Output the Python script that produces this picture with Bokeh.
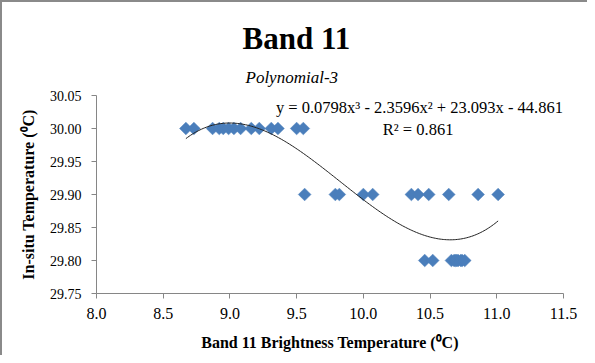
import numpy as np
from bokeh.plotting import figure
from bokeh.models import Label, Range1d, ColumnDataSource, Title
from bokeh.embed import file_html
from bokeh.resources import INLINE

# Data
x_row_3000 = [8.67, 8.73, 8.87, 8.92, 8.95, 8.99, 9.03, 9.08, 9.16, 9.22, 9.31, 9.36, 9.50, 9.55]
x_row_2990 = [9.56, 9.79, 9.82, 10.00, 10.07, 10.36, 10.41, 10.49, 10.64, 10.86, 11.01]
x_row_2980 = [10.46, 10.52, 10.66, 10.68, 10.69, 10.70, 10.71, 10.73, 10.74, 10.76]
y_levels = [30.00, 29.90, 29.80]

x_ticks = [8.0, 8.5, 9.0, 9.5, 10.0, 10.5, 11.0, 11.5]
y_ticks = [29.75, 29.80, 29.85, 29.90, 29.95, 30.00, 30.05]

title_text = "Band 11"
subtitle_text = "Polynomial-3"
equation_text = "y = 0.0798x\u00b3 - 2.3596x\u00b2 + 23.093x - 44.861"
r2_text = "R\u00b2 = 0.861"
x_title = "Band 11 Brightness Temperature (\u2070C)"
y_title = "In-situ Temperature (\u2070C)"

xs = x_row_3000 + x_row_2990 + x_row_2980
ys = [y_levels[0]] * len(x_row_3000) + [y_levels[1]] * len(x_row_2990) + [y_levels[2]] * len(x_row_2980)

# cubic trendline fitted to the points
coef = np.polyfit(xs, ys, 3)
tx = np.linspace(min(xs), max(xs), 200)
ty = np.polyval(coef, tx)

FONT = "Liberation Serif"
TITLE_FONT = "Times New Roman"

W, H = 587, 355
B_LEFT, B_RIGHT, B_TOP, B_BOTTOM = 94, 26, 93, 64
ppu = (H - B_TOP - B_BOTTOM) / (y_ticks[-1] - y_ticks[0])

def ydata(canvas_y):
    return y_ticks[-1] - (canvas_y - B_TOP) / ppu

p = figure(width=W, height=H, output_backend="svg", toolbar_location=None, title=None,
           x_range=Range1d(x_ticks[0], x_ticks[-1]), y_range=Range1d(y_ticks[0], y_ticks[-1]),
           min_border_left=B_LEFT, min_border_right=B_RIGHT, min_border_top=B_TOP,
           min_border_bottom=B_BOTTOM)
p.outline_line_color = None
p.xgrid.visible = False
p.ygrid.visible = False
p.background_fill_color = "white"
p.border_fill_color = "white"
p.styles = {"border-left": "2px solid #8a8a8a", "border-top": "2px solid #8a8a8a"}

src = ColumnDataSource(dict(x=xs, y=ys))
p.scatter("x", "y", source=src, marker="square", size=9, angle=np.pi / 4,
          fill_color="#4a7ebb", line_color="#4a7ebb", line_width=0.5)
p.line(tx, ty, line_color="#222222", line_width=1)

for ax in (p.xaxis[0], p.yaxis[0]):
    ax.axis_line_color = "#868686"
    ax.major_tick_line_color = "#868686"
    ax.minor_tick_line_color = None
    ax.major_tick_in = 0
    ax.major_tick_out = 5
    ax.major_label_text_font = FONT
    ax.major_label_text_color = "#000000"
    ax.axis_label_text_font = FONT
    ax.axis_label_text_font_style = "bold"
    ax.axis_label_text_color = "#000000"
    ax.axis_label_text_font_size = "16px"

p.xaxis.ticker = x_ticks
p.yaxis.ticker = y_ticks
p.xaxis.major_label_overrides = {t: f"{t:.1f}" for t in x_ticks}
p.yaxis.major_label_overrides = {t: f"{t:.2f}" for t in y_ticks}
p.xaxis.major_label_text_font_size = "16px"
p.yaxis.major_label_text_font_size = "14px"
p.xaxis.major_label_standoff = 9
p.yaxis.major_label_standoff = 10
p.xaxis.axis_label = x_title
p.yaxis.axis_label = y_title
p.xaxis.axis_label_standoff = 12
p.yaxis.axis_label_standoff = 10

sub = Title(text=subtitle_text, align="left", offset=149, standoff=18)
sub.text_font = TITLE_FONT
sub.text_font_size = "17px"
sub.text_font_style = "italic"
sub.text_color = "#000000"
main = Title(text=title_text, align="left", offset=146, standoff=2)
main.text_font = TITLE_FONT
main.text_font_size = "31px"
main.text_font_style = "bold"
main.text_color = "#000000"
p.add_layout(sub, "above")
p.add_layout(main, "above")

p.add_layout(Label(x=10.42, y=ydata(105), text=equation_text, text_font=FONT, text_font_size="16.5px",
                   text_align="center", text_baseline="middle", text_color="#000000"))
p.add_layout(Label(x=10.41, y=ydata(127), text=r2_text, text_font=FONT, text_font_size="16.5px",
                   text_align="center", text_baseline="middle", text_color="#000000"))

open("out.html", "w").write(file_html(p, INLINE))
